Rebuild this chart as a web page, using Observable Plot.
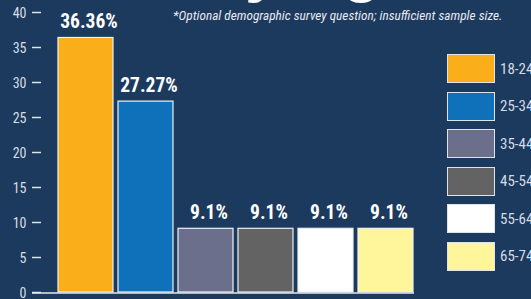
<!DOCTYPE html>
<html><head><meta charset="utf-8">
<script src="https://cdn.jsdelivr.net/npm/d3@7"></script>
<script src="https://cdn.jsdelivr.net/npm/@observablehq/plot@0.6"></script>
<style>
html,body{margin:0;padding:0;background:#1c3a5e;}
#wrap{position:relative;width:531px;height:299px;overflow:hidden;background:#1c3a5e;font-family:"Liberation Sans Narrow","Arial Narrow","Roboto Condensed","Liberation Sans",sans-serif;}
#title{position:absolute;left:206px;top:-64px;font-weight:bold;font-size:64px;font-family:"Liberation Sans",Arial,sans-serif;color:#fff;line-height:64px;white-space:nowrap;}
#note{position:absolute;left:173px;top:8px;font-style:italic;font-size:13.3px;color:#e6e9ef;white-space:nowrap;line-height:16px;}
#chart{position:absolute;left:0;top:0;}
#legend{position:absolute;left:447px;top:54px;}
.item{display:flex;align-items:center;height:29px;margin-bottom:8.6px;}
.sw{width:46px;height:27px;border:1px solid #dfe3ea;margin-right:5px;}
.lab{font-size:15px;color:#d6dbe3;white-space:nowrap;}
</style></head>
<body>
<div id="wrap">
  <div id="chart"></div>
  <div id="title">by Age</div>
  <div id="note">*Optional demographic survey question; insufficient sample size.</div>
  <div id="legend"></div>
</div>
<script>
const ages = ["18-24", "25-34", "35-44", "45-54", "55-64", "65-74"];
const values = [36.36, 27.27, 9.1, 9.1, 9.1, 9.1];
const labels = ["36.36%", "27.27%", "9.1%", "9.1%", "9.1%", "9.1%"];
const colors = ["#f9ae1a", "#0f71b9", "#6b6f8b", "#636363", "#ffffff", "#fff59b"];
const yTicks = [0, 5, 10, 15, 20, 25, 30, 35, 40];

const data = ages.map((age, i) => ({age, value: values[i], label: labels[i]}));
const font = '"Liberation Sans Narrow","Arial Narrow","Roboto Condensed","Liberation Sans",sans-serif';

const chart = Plot.plot({
  width: 531, height: 299,
  marginTop: 12, marginBottom: 7, marginLeft: 32, marginRight: 117,
  style: {background: "transparent", color: "#d8dde5", fontFamily: font, fontSize: "14px", overflow: "visible"},
  x: {domain: ages, range: [57, 414], paddingInner: 0.09, paddingOuter: 0, axis: null},
  y: {domain: [0, 40], ticks: yTicks, axis: null, label: null},
  color: {domain: ages, range: colors},
  marks: [
    Plot.barY(data, {x: "age", y: "value", fill: "age", stroke: "#eef1f5", strokeWidth: 1.2}),
    Plot.text(data, {x: "age", y: "value", text: "label", dy: -9.5, dx: 3, lineAnchor: "bottom", fill: "#ffffff", fontWeight: "bold", fontSize: 19.5}),
    Plot.axisY({ticks: yTicks, tickSize: 0, tickPadding: 6, fill: "#d8dde5", fontSize: 14, dy: 1, label: null}),
    Plot.tickY(yTicks, {y: d => d, stroke: "#dfe3ea", strokeWidth: 1.5, insetRight: 373}),
    Plot.axisY({ticks: [], line: true, stroke: "#dfe3ea", strokeWidth: 1.3, label: null}),
    Plot.ruleY([0], {stroke: "#e6e9ee", strokeWidth: 1.5, dy: 0.5})
  ]
});
document.getElementById("chart").append(chart);

const colorScale = chart.scale("color");
const scale = Plot.scale({color: {domain: colorScale.domain, range: colorScale.range}});
const legend = d3.select("#legend");
ages.forEach(a => {
  const item = legend.append("div").attr("class", "item");
  item.append("div").attr("class", "sw").style("background", scale.apply(a));
  item.append("span").attr("class", "lab").text(a);
});
</script>
</body></html>
